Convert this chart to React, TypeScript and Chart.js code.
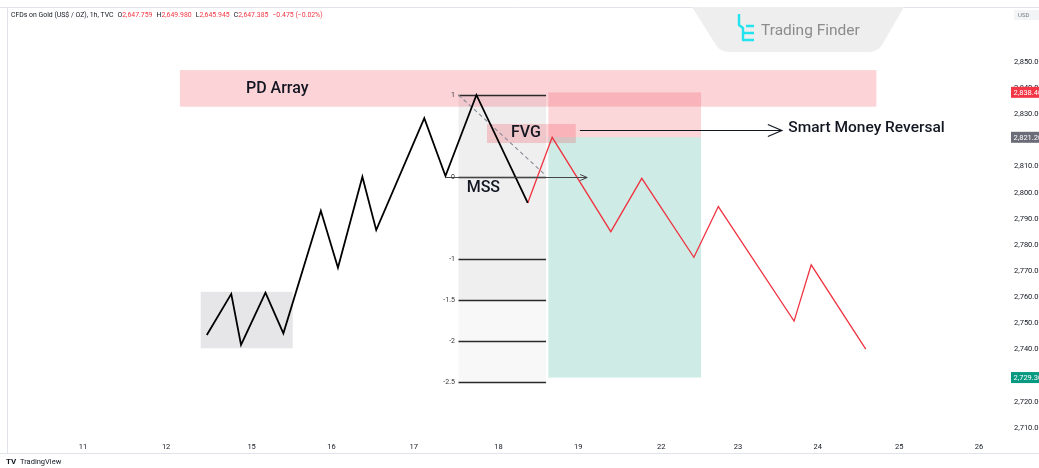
import { useEffect, useRef } from "react";
import { Chart, registerables } from "chart.js";

Chart.register(...registerables);

// ---- axis data ----
const dayLabels = ["11", "12", "15", "16", "17", "18", "19", "22", "23", "24", "25", "26"];
const dayPositions = [0, 1.02, 2.07, 3.05, 4.06, 5.1, 6.08, 7.1, 8.04, 9.02, 10.02, 11.0];
const priceTicks = [2710, 2720, 2730, 2740, 2750, 2760, 2770, 2780, 2790, 2800, 2810, 2820, 2830, 2840, 2850];

// ---- price path (black = bullish leg, red = projected reversal) ----
const blackX = [1.52, 1.82, 1.94, 2.24, 2.46, 2.92, 3.13, 3.43, 3.6, 4.19, 4.45, 4.83, 5.46];
const blackY = [2745.6, 2761.3, 2741.8, 2761.8, 2746.2, 2793.1, 2771.3, 2806.1, 2785.7, 2828.5, 2806.4, 2837.4, 2796.1];
const redX = [5.46, 5.76, 6.48, 6.86, 7.5, 7.8, 8.73, 8.94, 9.61];
const redY = [2796.1, 2821.2, 2785.1, 2805.5, 2775.3, 2794.7, 2750.9, 2772.4, 2740.2];

// ---- fibonacci ----
const fibHigh = 2837.4;
const fibLow = 2806.0;
const fibLevels = [1, 0, -1, -1.5, -2, -2.5];
const fibLabels = ["1", "0", "-1", "-1.5", "-2", "-2.5"];
const fibRange = [4.61, 5.685];

// ---- zones ----
const pdArrayZone = [1.19, 9.74, 2832.9, 2846.9];
const fvgZone = [4.96, 6.05, 2819.0, 2826.3];
const rangeZone = [1.445, 2.575, 2740.5, 2762.1];
const positionRange = [5.713, 7.588];
const entryPrice = 2821.2;
const stopPrice = 2838.4;
const targetPrice = 2729.3;
const mssArrow = [4.457, 6.19, 2806.0];
const smrArrow = [6.1, 8.58, 2824.0];

// ---- header ----
const symbolTitle = "CFDs on Gold (US$ / OZ), 1h, TVC";
const ohlcKeys = ["O", "H", "L", "C"];
const ohlcValues = ["2,647.759", "2,649.980", "2,645.945", "2,647.385"];
const changeText = "\u22120.475 (\u22120.02%)";

const FONT = "Roboto, 'Noto Sans', sans-serif";
const RED = "#f23645";

const annotations = {
  id: "annotations",
  beforeDatasetsDraw(chart: any) {
    const { ctx, chartArea } = chart;
    const xs = chart.scales.x;
    const ys = chart.scales.y;
    const X = (v: number) => xs.getPixelForValue(v);
    const Y = (v: number) => ys.getPixelForValue(v);
    const rect = (x0: number, x1: number, y0: number, y1: number, color: string) => {
      ctx.fillStyle = color;
      const a = X(x0), b = X(x1), c = Y(y1), d = Y(y0);
      ctx.fillRect(a, c, b - a, d - c);
    };
    ctx.save();
    ctx.beginPath();
    ctx.rect(chartArea.left, chartArea.top, chartArea.right - chartArea.left, chartArea.bottom - chartArea.top);
    ctx.clip();
    const fibPrice = (l: number) => fibLow + (fibHigh - fibLow) * l;
    // fib background
    rect(fibRange[0], fibRange[1], fibPrice(-1.5), fibPrice(1), "rgba(120,123,134,0.12)");
    rect(fibRange[0], fibRange[1], fibPrice(-2.5), fibPrice(-1.5), "rgba(120,123,134,0.05)");
    // consolidation
    rect(rangeZone[0], rangeZone[1], rangeZone[2], rangeZone[3], "rgba(120,123,134,0.19)");
    // target
    rect(positionRange[0], positionRange[1], targetPrice, entryPrice, "rgba(8,153,129,0.2)");
    // PD array
    rect(pdArrayZone[0], pdArrayZone[1], pdArrayZone[2], pdArrayZone[3], "rgba(242,54,69,0.21)");
    // stop
    rect(positionRange[0], positionRange[1], entryPrice, stopPrice, "rgba(242,54,69,0.2)");
    // FVG
    rect(fvgZone[0], fvgZone[1], fvgZone[2], fvgZone[3], "rgba(242,54,69,0.22)");

    // fib lines
    ctx.strokeStyle = "#2a2a2a";
    ctx.lineWidth = 1.7;
    fibLevels.forEach((l) => {
      const y = Math.round(Y(fibPrice(l))) + 0.5;
      ctx.beginPath();
      ctx.moveTo(X(fibRange[0]), y);
      ctx.lineTo(X(fibRange[1]), y);
      ctx.stroke();
    });
    // dashed diagonal
    ctx.strokeStyle = "#8a8d96";
    ctx.lineWidth = 1.2;
    ctx.setLineDash([4, 3]);
    ctx.beginPath();
    ctx.moveTo(X(fibRange[0]), Y(fibHigh));
    ctx.lineTo(X(fibRange[1] - 0.01), Y(fibLow + 0.8));
    ctx.stroke();
    ctx.setLineDash([]);
    ctx.restore();
  },
  afterDatasetsDraw(chart: any) {
    const { ctx } = chart;
    const xs = chart.scales.x;
    const ys = chart.scales.y;
    const X = (v: number) => xs.getPixelForValue(v);
    const Y = (v: number) => ys.getPixelForValue(v);
    const fibPrice = (l: number) => fibLow + (fibHigh - fibLow) * l;
    ctx.save();
    // fib labels
    ctx.font = `7px ${FONT}`;
    ctx.fillStyle = "#333";
    ctx.textAlign = "right";
    ctx.textBaseline = "middle";
    fibLevels.forEach((l, i) => {
      ctx.fillText(fibLabels[i], X(fibRange[0]) - 3.5, Y(fibPrice(l)));
    });

    const arrow = (x0: number, x1: number, y: number, color: string, w: number, hl: number, hw: number) => {
      const a = X(x0), b = X(x1), yy = Math.round(Y(y)) + 0.5;
      ctx.strokeStyle = color;
      ctx.lineWidth = w;
      ctx.beginPath();
      ctx.moveTo(a, yy);
      ctx.lineTo(b, yy);
      ctx.moveTo(b - hl, yy - hw);
      ctx.lineTo(b, yy);
      ctx.lineTo(b - hl, yy + hw);
      ctx.stroke();
    };
    arrow(mssArrow[0], mssArrow[1], mssArrow[2], "#444", 1, 7, 3);
    arrow(smrArrow[0], smrArrow[1], smrArrow[2], "#131722", 1.2, 14, 6);

    // texts
    ctx.textAlign = "left";
    ctx.textBaseline = "middle";
    ctx.fillStyle = "#131722";
    ctx.font = `500 16px ${FONT}`;
    ctx.fillText("PD Array", X(2.0), Y(2839.7));
    ctx.fillText("FVG", X(5.255), Y(2823.0));
    ctx.fillText("MSS", X(4.71), Y(2801.8));
    ctx.font = `500 15.5px ${FONT}`;
    ctx.fillText("Smart Money Reversal", X(8.66), Y(2824.8));
    ctx.restore();
  },
  afterDraw(chart: any) {
    const { ctx, width } = chart;
    const ys = chart.scales.y;
    const Y = (v: number) => ys.getPixelForValue(v);
    ctx.save();
    // frame lines
    ctx.strokeStyle = "#e0e3eb";
    ctx.lineWidth = 1;
    ctx.beginPath();
    ctx.moveTo(0, 7.5);
    ctx.lineTo(width, 7.5);
    ctx.moveTo(0, 453.5);
    ctx.lineTo(width, 453.5);
    ctx.moveTo(7.5, 7.5);
    ctx.lineTo(7.5, 453.5);
    ctx.stroke();

    // price tags
    const tag = (p: number, color: string) => {
      const y = Y(p);
      ctx.fillStyle = color;
      ctx.fillRect(1011, y - 5.5, width - 1011, 11);
      ctx.fillStyle = "#fff";
      ctx.font = `7.5px ${FONT}`;
      ctx.textAlign = "left";
      ctx.textBaseline = "middle";
      ctx.fillText(p.toLocaleString("en-US", { minimumFractionDigits: 2, maximumFractionDigits: 2 }), 1013.5, y + 0.5);
    };
    tag(stopPrice, RED);
    tag(entryPrice, "#6a6d78");
    tag(targetPrice, "#089981");

    // currency label
    ctx.fillStyle = "#f3f4f6";
    ctx.fillRect(1014, 10, 25, 10);
    ctx.fillStyle = "#787b86";
    ctx.font = `6px ${FONT}`;
    ctx.textAlign = "left";
    ctx.textBaseline = "middle";
    ctx.fillText("USD", 1018, 15);

    // header legend
    let x = 11;
    const y0 = 15.5;
    ctx.font = `6.9px ${FONT}`;
    ctx.textBaseline = "middle";
    ctx.fillStyle = "#131722";
    ctx.fillText(symbolTitle, x, y0);
    x += ctx.measureText(symbolTitle).width + 4;
    ohlcKeys.forEach((k, i) => {
      ctx.fillStyle = "#131722";
      ctx.fillText(k, x, y0);
      x += ctx.measureText(k).width;
      ctx.fillStyle = RED;
      ctx.fillText(ohlcValues[i], x, y0);
      x += ctx.measureText(ohlcValues[i]).width + 4;
    });
    ctx.fillStyle = RED;
    ctx.fillText(changeText, x, y0);

    // Trading Finder banner
    ctx.fillStyle = "#eeeeee";
    ctx.beginPath();
    ctx.moveTo(692, 7);
    ctx.lineTo(716, 45);
    ctx.quadraticCurveTo(720, 52, 730, 52);
    ctx.lineTo(868, 52);
    ctx.quadraticCurveTo(878, 52, 882, 45);
    ctx.lineTo(904, 7);
    ctx.closePath();
    ctx.fill();
    // icon
    ctx.strokeStyle = "#22e3ee";
    ctx.lineWidth = 2.4;
    ctx.lineJoin = "round";
    ctx.beginPath();
    ctx.moveTo(739, 14);
    ctx.lineTo(739, 25);
    ctx.lineTo(743, 28);
    ctx.lineTo(743, 40);
    ctx.lineTo(754, 40);
    ctx.moveTo(754, 26);
    ctx.lineTo(746, 26);
    ctx.moveTo(743, 33);
    ctx.lineTo(754, 33);
    ctx.stroke();
    ctx.fillStyle = "#8c8c8c";
    ctx.font = `15.5px ${FONT}`;
    ctx.textAlign = "left";
    ctx.textBaseline = "middle";
    ctx.fillText("Trading Finder", 761, 31);

    // TradingView mark
    ctx.fillStyle = "#131722";
    ctx.font = `bold 8px ${FONT}`;
    ctx.fillText("TV", 6, 462);
    ctx.font = `7.5px ${FONT}`;
    ctx.fillText("TradingView", 20, 462);
    ctx.restore();
  },
};

export default function App() {
  const ref = useRef<HTMLCanvasElement | null>(null);
  useEffect(() => {
    if (!ref.current) return;
    const chart = new Chart(ref.current, {
      type: "line",
      data: {
        datasets: [
          {
            label: "Bullish leg",
            data: blackX.map((x, i) => ({ x, y: blackY[i] })),
            borderColor: "#000000",
            borderWidth: 1.8,
            pointRadius: 0,
            tension: 0,
          },
          {
            label: "Reversal",
            data: redX.map((x, i) => ({ x, y: redY[i] })),
            borderColor: "#ef3340",
            borderWidth: 1.3,
            pointRadius: 0,
            tension: 0,
          },
        ],
      },
      options: {
        responsive: false,
        animation: false,
        events: [],
        layout: { padding: { left: 8, top: 22, right: 0, bottom: 0 } },
        plugins: { legend: { display: false }, tooltip: { enabled: false } },
        scales: {
          x: {
            type: "linear",
            min: -0.921,
            max: 11.381,
            grid: { display: false },
            border: { display: false },
            afterFit: (axis: any) => {
              axis.height = 31;
            },
            afterBuildTicks: (axis: any) => {
              axis.ticks = dayPositions.map((v) => ({ value: v }));
            },
            ticks: {
              autoSkip: false,
              maxRotation: 0,
              padding: -2,
              color: "#131722",
              font: { size: 7.5, family: FONT },
              callback: (_v: any, i: number) => dayLabels[i],
            },
          },
          y: {
            type: "linear",
            position: "right",
            min: 2706.56,
            max: 2865.3,
            grid: { display: false, drawTicks: false },
            border: { display: false },
            afterFit: (axis: any) => {
              axis.width = 29;
            },
            afterBuildTicks: (axis: any) => {
              axis.ticks = priceTicks.map((v) => ({ value: v }));
            },
            ticks: {
              padding: 4,
              color: "#131722",
              font: { size: 7.5, family: FONT },
              callback: (v: any) =>
                Number(v).toLocaleString("en-US", { minimumFractionDigits: 2, maximumFractionDigits: 2 }),
            },
          },
        },
      },
      plugins: [annotations],
    });
    return () => chart.destroy();
  }, []);
  return (
    <div style={{ position: "fixed", left: 0, top: 0, width: 1039, height: 468, background: "#fff" }}>
      <canvas ref={ref} width={1039} height={468} style={{ display: "block" }} />
    </div>
  );
}
